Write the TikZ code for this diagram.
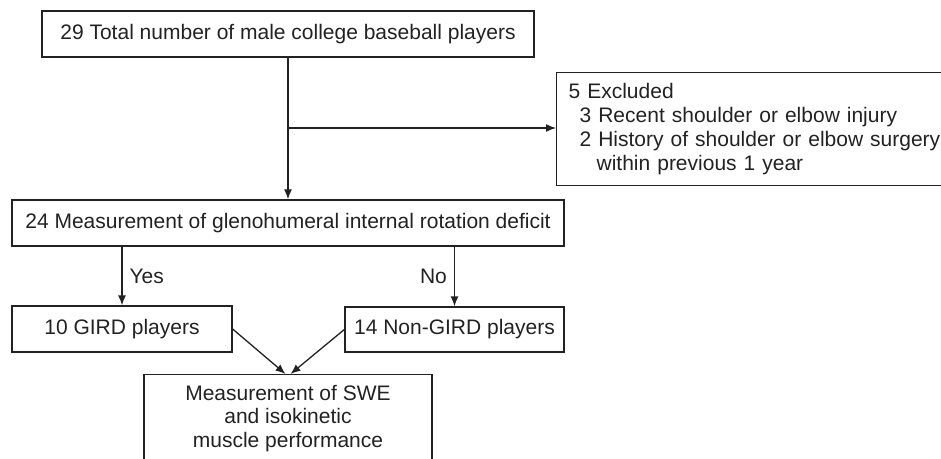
\documentclass[tikz,border=0pt]{standalone}
\usepackage{fontspec}
\setmainfont{Liberation Sans}
\usetikzlibrary{arrows.meta}
\definecolor{ink}{HTML}{222222}
\tikzset{
  box/.style={draw=ink, line width=1.3pt, text=ink, inner sep=0pt,
    font=\fontsize{21}{24}\selectfont},
  arr/.style={draw=ink, line width=1.3pt, -{Latex[length=10pt,width=8pt]}},
  lbl/.style={text=ink, inner sep=0pt, font=\fontsize{21}{24}\selectfont}
}
\begin{document}
\begin{tikzpicture}[x=1pt,y=-1pt]
\useasboundingbox (0,0) rectangle (941,458);
\clip (0,0) rectangle (941,458);
% boxes
\node[box, minimum width=492pt, minimum height=46pt] (top) at (288,34)
  {29 Total number of male college baseball players};
\node[box, anchor=north west, minimum width=420pt, minimum height=113pt,
  text width=396pt, inner xsep=11pt, align=left] (excl) at (556,72)
  {5 Excluded\\
   \hspace*{11pt}3 Recent shoulder or elbow injury\\
   \hspace*{11pt}2 History of shoulder or elbow surgery\\
   \hspace*{28pt}within previous 1 year};
\node[box, minimum width=552pt, minimum height=46pt] (box2) at (288,223)
  {24 Measurement of glenohumeral internal rotation deficit};
\node[box, minimum width=220pt, minimum height=46pt] (gird) at (122,329)
  {10 GIRD players};
\node[box, minimum width=219pt, minimum height=45pt] (ngird) at (454.5,329.5)
  {14 Non-GIRD players};
\node[box, anchor=north, minimum width=288pt, inner ysep=10.6pt,
  font=\fontsize{21}{23.5}\selectfont, align=center] (bot) at (288,374)
  {Measurement of SWE\\and isokinetic\\muscle performance};
% connectors
\coordinate (br) at (288,128);
\draw[arr] (top.south) -- (box2.north);
\draw[arr] (br) -- (br -| excl.west);
\draw[arr] (gird.north |- box2.south) -- (gird.north)
  node[lbl, anchor=base west, pos=0.62, xshift=7pt] (yes) {Yes};
\draw[arr] (ngird.north |- box2.south) -- (ngird.north)
  node[lbl, anchor=base east, pos=0.62, xshift=-7pt] (no) {No};
\draw[arr] (gird.east) -- ([xshift=-2.5pt]bot.north);
\draw[arr] (ngird.west) -- ([xshift=2.5pt]bot.north);
\end{tikzpicture}
\end{document}
